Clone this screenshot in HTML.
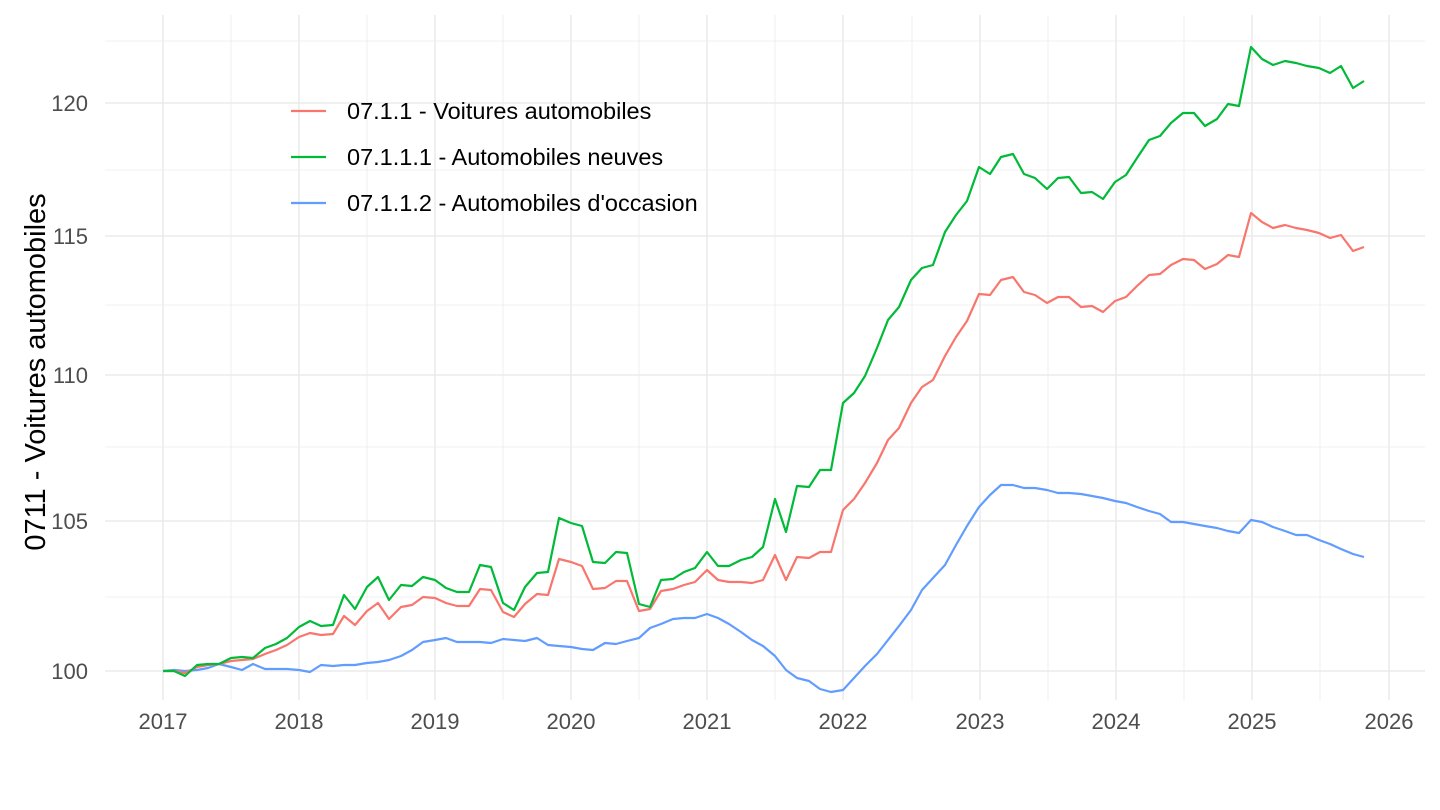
<!DOCTYPE html>
<html><head><meta charset="utf-8"><style>body{margin:0;background:#fff}svg{display:block}text{font-family:"Liberation Sans",Arial,sans-serif}</style></head><body>
<svg width="1440" height="810" xmlns="http://www.w3.org/2000/svg">
<g stroke="#ebebeb" stroke-width="0.8" fill="none">
<line x1="105" x2="1425" y1="597" y2="597"/><line x1="105" x2="1425" y1="447" y2="447"/><line x1="105" x2="1425" y1="305" y2="305"/><line x1="105" x2="1425" y1="170" y2="170"/><line x1="105" x2="1425" y1="41" y2="41"/>
<line x1="231" x2="231" y1="15" y2="700"/><line x1="367" x2="367" y1="15" y2="700"/><line x1="503" x2="503" y1="15" y2="700"/><line x1="639" x2="639" y1="15" y2="700"/><line x1="775" x2="775" y1="15" y2="700"/><line x1="912" x2="912" y1="15" y2="700"/><line x1="1048" x2="1048" y1="15" y2="700"/><line x1="1184" x2="1184" y1="15" y2="700"/><line x1="1320" x2="1320" y1="15" y2="700"/>
</g>
<g stroke="#ebebeb" stroke-width="1.6" fill="none">
<line x1="105" x2="1425" y1="671" y2="671"/><line x1="105" x2="1425" y1="521" y2="521"/><line x1="105" x2="1425" y1="375" y2="375"/><line x1="105" x2="1425" y1="236" y2="236"/><line x1="105" x2="1425" y1="103" y2="103"/>
<line x1="163" x2="163" y1="15" y2="700"/><line x1="299" x2="299" y1="15" y2="700"/><line x1="435" x2="435" y1="15" y2="700"/><line x1="571" x2="571" y1="15" y2="700"/><line x1="707" x2="707" y1="15" y2="700"/><line x1="843" x2="843" y1="15" y2="700"/><line x1="980" x2="980" y1="15" y2="700"/><line x1="1116" x2="1116" y1="15" y2="700"/><line x1="1252" x2="1252" y1="15" y2="700"/><line x1="1389" x2="1389" y1="15" y2="700"/>
</g>
<g font-size="22" fill="#4d4d4d" text-anchor="end">
<text x="88" y="679">100</text><text x="88" y="529">105</text><text x="88" y="383">110</text><text x="88" y="244">115</text><text x="88" y="111">120</text>
</g>
<g font-size="22" fill="#4d4d4d" text-anchor="middle">
<text x="163" y="729">2017</text><text x="299" y="729">2018</text><text x="435" y="729">2019</text><text x="571" y="729">2020</text><text x="707" y="729">2021</text><text x="843" y="729">2022</text><text x="980" y="729">2023</text><text x="1116" y="729">2024</text><text x="1252" y="729">2025</text><text x="1389" y="729">2026</text>
</g>
<text transform="translate(45,372) rotate(-90)" font-size="29" fill="#000" text-anchor="middle">0711 - Voitures automobiles</text>
<g fill="none" stroke-width="2.2" stroke-linejoin="round">
<polyline stroke="#619CFF" points="163,671 174,670 185,671 197,670 208,668 219,664 231,667 242,670 253,664 265,669 276,669 287,669 299,670 310,672 321,665 333,666 344,665 355,665 367,663 378,662 389,660 401,656 412,650 423,642 435,640 446,638 457,642 469,642 480,642 491,643 503,639 514,640 525,641 537,638 548,645 559,646 571,647 582,649 593,650 605,643 616,644 627,641 639,638 650,628 661,624 673,619 684,618 695,618 707,614 718,618 729,624 741,632 752,640 763,646 775,656 786,670 797,678 809,681 820,689 831,692 843,690 854,678 865,666 877,654 888,640 899,626 911,610 922,590 933,578 945,565 956,545 967,526 979,507 990,495 1001,485 1013,485 1024,488 1035,488 1047,490 1058,493 1069,493 1081,494 1092,496 1103,498 1115,501 1126,503 1137,507 1149,511 1160,514 1171,522 1183,522 1194,524 1205,526 1217,528 1228,531 1239,533 1251,520 1262,522 1273,527 1285,531 1296,535 1307,535 1319,540 1330,544 1341,549 1353,554 1364,557"/>
<polyline stroke="#F8766D" points="163,671 174,671 185,673 197,667 208,665 219,664 231,661 242,660 253,659 265,654 276,650 287,645 299,637 310,633 321,635 333,634 344,616 355,625 367,611 378,603 389,619 401,607 412,605 423,597 435,598 446,603 457,606 469,606 480,589 491,590 503,612 514,617 525,604 537,594 548,595 559,559 571,562 582,566 593,589 605,588 616,581 627,581 639,611 650,609 661,591 673,589 684,585 695,582 707,570 718,580 729,582 741,582 752,583 763,580 775,555 786,580 797,557 809,558 820,552 831,552 843,510 854,499 865,483 877,463 888,440 899,428 911,403 922,387 933,380 945,356 956,337 967,321 979,294 990,295 1001,280 1013,277 1024,292 1035,295 1047,303 1058,297 1069,297 1081,307 1092,306 1103,312 1115,301 1126,297 1137,286 1149,275 1160,274 1171,265 1183,259 1194,260 1205,269 1217,264 1228,255 1239,257 1251,213 1262,222 1273,228 1285,225 1296,228 1307,230 1319,233 1330,238 1341,235 1353,251 1364,247"/>
<polyline stroke="#00BA38" points="163,671 174,671 185,676 197,665 208,664 219,664 231,658 242,657 253,658 265,648 276,644 287,638 299,627 310,621 321,626 333,625 344,595 355,609 367,587 378,577 389,600 401,585 412,586 423,577 435,580 446,588 457,592 469,592 480,565 491,567 503,603 514,610 525,587 537,573 548,572 559,518 571,523 582,526 593,562 605,563 616,552 627,553 639,604 650,607 661,580 673,579 684,572 695,568 707,552 718,566 729,566 741,560 752,557 763,547 775,499 786,532 797,486 809,487 820,470 831,470 843,403 854,393 865,376 877,348 888,320 899,307 911,280 922,268 933,265 945,232 956,215 967,201 979,167 990,174 1001,157 1013,154 1024,174 1035,178 1047,189 1058,178 1069,177 1081,193 1092,192 1103,199 1115,182 1126,175 1137,158 1149,140 1160,136 1171,123 1183,113 1194,113 1205,126 1217,119 1228,104 1239,106 1251,47 1262,59 1273,65 1285,61 1296,63 1307,66 1319,68 1330,73 1341,66 1353,88 1364,81"/>
</g>
<g stroke-width="2.2">
<line x1="291" x2="326" y1="111" y2="111" stroke="#F8766D"/>
<line x1="291" x2="326" y1="157" y2="157" stroke="#00BA38"/>
<line x1="291" x2="326" y1="203" y2="203" stroke="#619CFF"/>
</g>
<g font-size="23.5" fill="#000">
<text x="347" y="119">07.1.1 - Voitures automobiles</text>
<text x="347" y="165">07.1.1.1 - Automobiles neuves</text>
<text x="347" y="211">07.1.1.2 - Automobiles d'occasion</text>
</g>
</svg>
</body></html>
